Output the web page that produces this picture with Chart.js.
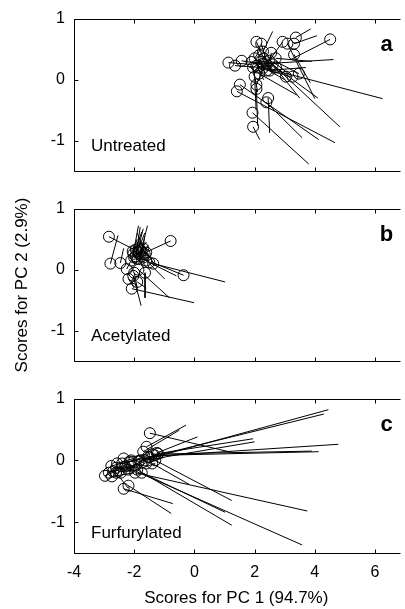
<!DOCTYPE html>
<html>
<head>
<meta charset="utf-8">
<script src="https://cdn.jsdelivr.net/npm/chart.js@4.4.1/dist/chart.umd.min.js"></script>
<style>
  html, body { margin: 0; padding: 0; background: #fff; }
  #wrap { position: relative; width: 405px; height: 609px; overflow: hidden; }
  canvas { position: absolute; left: 0; }
</style>
</head>
<body>
<div id="wrap">
  <canvas id="panelA" width="405" height="190" style="top:0px"></canvas>
  <canvas id="panelB" width="405" height="190" style="top:190px"></canvas>
  <canvas id="panelC" width="405" height="229" style="top:380px"></canvas>
</div>
<script>
const xTicks = [-4, -2, 0, 2, 4, 6];
const yTicks = [-1, 0, 1];
const panelNames = ['Untreated', 'Acetylated', 'Furfurylated'];
const panelLetters = ['a', 'b', 'c'];

// scores (circles) and the far end of the line drawn from each one
const untreatedX    = [1.13, 1.35, 1.57, 1.90, 2.06, 2.22, 2.28, 2.55, 2.06, 2.28, 2.93, 3.09, 3.37, 3.31, 3.31, 4.51, 3.04, 3.26, 3.47, 1.51, 1.41, 2.06, 2.39, 2.45, 1.93, 1.95, 2.06, 2.71, 2.49, 2.60, 2.30, 2.15, 2.40, 2.00, 2.70, 2.10, 2.20, 2.30, 2.00, 2.40, 2.15, 1.95, 2.50];
const untreatedY    = [0.28, 0.23, 0.31, 0.29, 0.62, 0.59, 0.46, 0.44, 0.23, 0.26, 0.62, 0.59, 0.69, 0.59, 0.41, 0.66, 0.05, 0.05, 0.10, -0.08, -0.19, -0.08, -0.37, -0.30, -0.54, -0.77, -0.15, 0.20, 0.31, 0.25, 0.35, 0.10, 0.15, 0.05, 0.35, 0.20, 0.30, 0.20, 0.35, 0.25, 0.40, 0.20, 0.15];
const untreatedEndX = [1.90, 2.20, 2.30, 2.50, 2.30, 2.40, 2.60, 2.50, 6.25, 4.62, 2.40, 4.00, 3.86, 4.07, 3.85, 3.20, 2.50, 2.60, 2.70, 4.13, 4.67, 2.40, 3.58, 2.50, 3.80, 2.17, 2.10, 4.83, 2.00, 3.50, 4.10, 3.40, 3.70, 2.05, 3.90, 2.30, 2.00, 3.00, 2.20, 2.60, 2.35, 2.10, 3.20];
const untreatedEndY = [0.25, 0.20, 0.25, 0.20, 0.35, 0.30, 0.79, 0.20, -0.31, 0.33, 0.25, -0.31, 0.83, 0.72, -0.05, 0.33, 0.30, 0.30, 0.30, -0.98, -1.03, 0.30, -0.95, -0.87, -1.38, -0.98, -0.75, -0.77, 0.28, -0.30, -0.30, -0.25, 0.20, -0.50, 0.30, 0.00, 0.10, 0.00, 0.50, 0.10, 0.45, -0.20, 0.05];

const acetylatedX    = [-2.84, -0.79, -2.79, -2.46, -2.25, -2.03, -1.90, -1.80, -1.95, -1.85, -1.64, -1.37, -0.36, -2.08, -2.03, -1.86, -2.19, -1.70, -1.60, -2.00, -1.75, -1.50, -1.90, -1.70, -1.95, -1.85, -1.75, -2.05, -1.80, -1.90, -1.65, -2.10, -1.60, -2.00];
const acetylatedY    = [0.54, 0.47, 0.10, 0.11, 0.01, 0.26, 0.30, 0.25, 0.33, 0.35, -0.05, 0.10, -0.09, -0.31, -0.10, 0.00, -0.15, 0.20, 0.28, 0.20, 0.30, 0.12, -0.20, 0.35, 0.22, 0.28, 0.22, 0.30, 0.32, 0.18, 0.25, 0.15, 0.15, -0.05];
const acetylatedEndX = [-2.00, -1.55, -2.54, -2.35, -2.00, -1.86, -1.70, -1.56, -1.75, -1.65, -1.64, 1.02, -1.40, -0.01, -1.77, -0.83, -2.00, -0.99, -1.30, -1.50, -1.85, -0.60, -1.60, -1.90, -1.80, -1.60, -1.65, -1.90, -1.50, -1.70, -1.55, -1.90, -1.20, -1.90];
const acetylatedEndY = [0.33, 0.30, 0.56, 0.35, 0.25, 0.72, 0.67, 0.72, 0.62, 0.60, -0.46, -0.20, 0.12, -0.54, -0.59, -0.46, -0.30, -0.15, 0.07, 0.15, 0.10, -0.10, -0.30, 0.60, 0.70, 0.45, 0.55, 0.50, 0.25, 0.05, 0.40, 0.10, 0.05, -0.30];

const furfurylatedX    = [-1.48, -1.59, -1.70, -2.97, -2.84, -2.76, -2.57, -2.35, -2.35, -2.19, -1.75, -2.08, -1.86, -1.54, -1.32, -1.21, -2.52, -2.30, -2.74, -1.97, -1.30, -1.40, -1.25, -1.50, -1.40, -2.10, -2.60, -1.65, -2.60, -2.45, -2.20, -2.00, -1.80, -2.40, -2.70, -1.90, -1.60, -2.15];
const furfurylatedY    = [0.44, 0.22, 0.14, -0.25, -0.20, -0.09, -0.05, 0.03, -0.46, -0.41, -0.20, -0.10, -0.02, 0.06, 0.08, 0.11, -0.18, -0.10, -0.26, -0.20, 0.00, -0.05, 0.12, 0.05, 0.10, 0.00, -0.20, 0.00, -0.12, -0.20, -0.15, -0.08, 0.00, -0.05, -0.18, -0.15, -0.05, -0.02];
const furfurylatedEndX = [1.41, -0.28, -0.50, -2.30, -2.20, -2.00, -1.90, -1.60, -0.72, -0.77, 1.02, 1.24, 4.45, 4.78, 4.13, 1.95, -1.80, 3.58, -2.00, 3.75, 1.24, -0.17, 0.10, 4.30, 3.90, -1.40, -2.20, 2.00, -2.00, -1.90, -1.60, -1.50, -1.20, -1.80, -2.10, -1.30, -1.00, -1.70];
const furfurylatedEndY = [0.11, 0.57, 0.49, -0.10, -0.05, 0.00, 0.05, 0.10, -0.70, -0.86, -0.84, -1.05, 0.82, 0.26, 0.14, 0.35, -0.15, -1.37, -0.20, -0.82, -0.65, -0.39, 0.38, 0.75, 0.15, 0.05, -0.45, 0.30, -0.10, -0.05, 0.00, 0.05, 0.10, 0.02, -0.12, -0.05, 0.05, 0.05];

const FONT = '"Liberation Sans", Arial, Helvetica, sans-serif';

// box, inward tick marks, panel name and letter
const framePlugin = {
    id: 'frame',
    afterDraw(chart, args, opts) {
        const { ctx, chartArea: a, scales } = chart;
        ctx.save();
        ctx.strokeStyle = '#000';
        ctx.lineWidth = 1;
        ctx.beginPath();
        const L = Math.round(a.left) + 0.5, T = Math.round(a.top) + 0.5, B = Math.round(a.bottom) + 0.5;
        ctx.moveTo(a.right + 2, T);
        ctx.lineTo(L, T);
        ctx.lineTo(L, B);
        ctx.lineTo(a.right + 2, B);
        xTicks.forEach(v => {
            const px = Math.round(scales.x.getPixelForValue(v)) + 0.5;
            ctx.moveTo(px, T); ctx.lineTo(px, T + 4);
            ctx.moveTo(px, B); ctx.lineTo(px, B - 4);
        });
        yTicks.forEach(v => {
            const py = Math.round(scales.y.getPixelForValue(v)) + 0.5;
            ctx.moveTo(L, py); ctx.lineTo(L + 4, py);
        });
        ctx.stroke();

        ctx.fillStyle = '#000';
        ctx.textBaseline = 'middle';
        ctx.textAlign = 'left';
        ctx.font = '17px ' + FONT;
        ctx.fillText(opts.name, a.left + 17, a.bottom - opts.nameOffset);
        ctx.textAlign = 'center';
        ctx.font = 'bold 22px ' + FONT;
        ctx.fillText(opts.letter, a.right - 12, a.top + 26);
        ctx.restore();
    }
};

function makePanel(id, idx, xs, ys, ex, ey, cfg) {
    const circles = xs.map((x, i) => ({ x: x, y: ys[i] }));
    const segs = [];
    xs.forEach((x, i) => {
        segs.push({ x: x, y: ys[i] });
        segs.push({ x: ex[i], y: ey[i] });
        segs.push({ x: ex[i], y: null });
    });

    return new Chart(document.getElementById(id).getContext('2d'), {
        type: 'scatter',
        data: {
            datasets: [{
                data: segs,
                showLine: true,
                spanGaps: false,
                borderColor: '#000',
                borderWidth: 1,
                pointRadius: 0,
                pointHoverRadius: 0
            }, {
                data: circles,
                pointRadius: 5.5,
                pointStyle: 'circle',
                backgroundColor: 'rgba(0,0,0,0)',
                borderColor: '#000',
                pointBorderWidth: 1
            }]
        },
        options: {
            responsive: false,
            animation: false,
            events: [],
            layout: { padding: { top: cfg.padTop, right: 0, bottom: 0, left: 0 } },
            plugins: {
                legend: { display: false },
                tooltip: { enabled: false },
                frame: { name: panelNames[idx], letter: panelLetters[idx], nameOffset: cfg.nameOffset }
            },
            scales: {
                x: {
                    type: 'linear',
                    min: -4,
                    max: 6.78,
                    afterBuildTicks: s => { s.ticks = xTicks.map(v => ({ value: v })); },
                    afterFit: s => { s.height = cfg.xHeight; },
                    grid: { display: false, drawTicks: false },
                    border: { display: false },
                    ticks: { display: cfg.showX, color: '#000', padding: 10, font: { size: 16, family: FONT } },
                    title: {
                        display: cfg.showX,
                        text: 'Scores for PC 1 (94.7%)',
                        color: '#000',
                        font: { size: 17, family: FONT },
                        padding: { top: 0, bottom: 0 }
                    }
                },
                y: {
                    min: -1.5,
                    max: 1,
                    afterBuildTicks: s => { s.ticks = yTicks.map(v => ({ value: v })); },
                    afterFit: s => { s.width = 74; },
                    grid: { display: false, drawTicks: false },
                    border: { display: false },
                    ticks: { color: '#000', padding: 9, font: { size: 16, family: FONT } },
                    title: {
                        display: cfg.showY,
                        text: 'Scores for PC 2 (2.9%)',
                        color: '#000',
                        font: { size: 17, family: FONT },
                        padding: { top: 12, bottom: 0 }
                    }
                }
            }
        },
        plugins: [framePlugin]
    });
}

makePanel('panelA', 0, untreatedX, untreatedY, untreatedEndX, untreatedEndY,
    { padTop: 15, xHeight: 12, showX: false, showY: false, nameOffset: 25 });
makePanel('panelB', 1, acetylatedX, acetylatedY, acetylatedEndX, acetylatedEndY,
    { padTop: 15, xHeight: 12, showX: false, showY: true, nameOffset: 25 });
makePanel('panelC', 2, furfurylatedX, furfurylatedY, furfurylatedEndX, furfurylatedEndY,
    { padTop: 14, xHeight: 56, showX: true, showY: false, nameOffset: 20 });
</script>
</body>
</html>
